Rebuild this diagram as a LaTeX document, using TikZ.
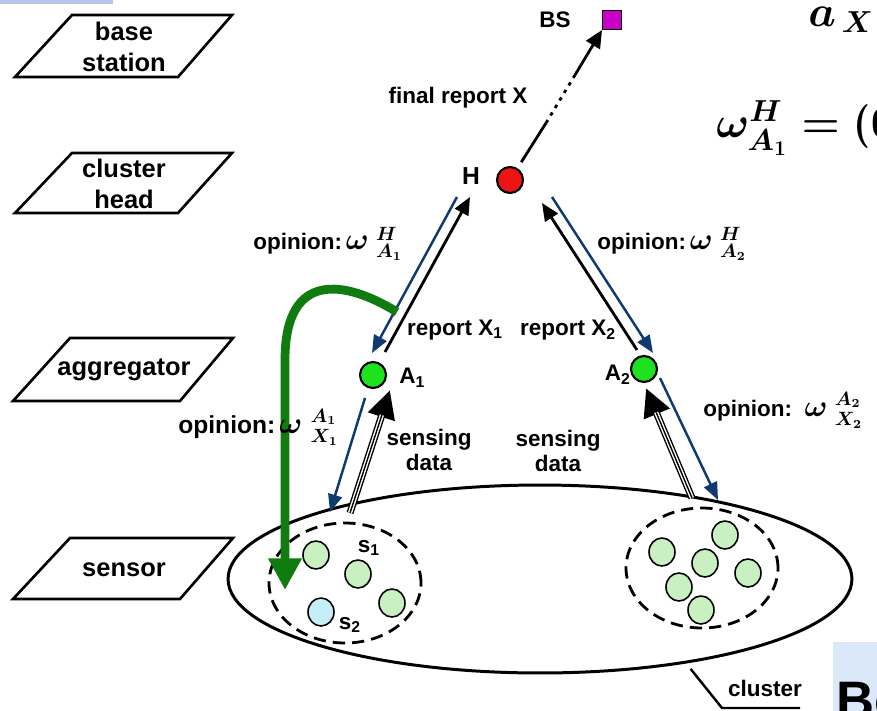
\documentclass[tikz,border=0pt]{standalone}
\usepackage{fontspec}
\usepackage{amsmath}
\setmainfont{Liberation Sans}
\usetikzlibrary{arrows.meta,shapes.geometric}
\definecolor{opblue}{RGB}{14,58,112}
\definecolor{trustgreen}{RGB}{16,124,16}
\definecolor{aggr}{RGB}{30,226,30}
\definecolor{sens}{RGB}{200,240,192}
\definecolor{sensb}{RGB}{198,238,248}
\definecolor{headred}{RGB}{238,20,20}
\definecolor{bsmag}{RGB}{200,0,200}
\definecolor{slideblue}{RGB}{218,232,250}
\definecolor{barblue}{RGB}{184,196,236}
\tikzstyle{lvl}=[draw, line width=1.5pt, line join=miter]
\tikzstyle{lvltext}=[inner sep=0pt, align=center, font=\fontsize{14.5}{17.6}\selectfont\bfseries]
\tikzstyle{lbl}=[inner sep=0pt, align=center, font=\fontsize{12.8}{14.5}\selectfont\bfseries]
\tikzstyle{bs}=[rectangle, draw, line width=0.6pt, fill=bsmag, minimum size=0.38cm, inner sep=0pt]
\tikzstyle{head}=[circle, draw, line width=1.2pt, fill=headred, minimum size=0.52cm, inner sep=0pt]
\tikzstyle{agg}=[circle, draw, line width=1.2pt, fill=aggr, minimum size=0.52cm, inner sep=0pt]
\tikzstyle{sn}=[ellipse, draw, line width=0.9pt, fill=sens, minimum width=0.52cm, minimum height=0.56cm, inner sep=0pt]
\tikzstyle{sgroup}=[ellipse, draw, line width=1.6pt, dash pattern=on 7pt off 4pt, minimum width=3.04cm, minimum height=2.4cm]
\tikzstyle{finalrep}=[line width=1.6pt]
\tikzstyle{report}=[line width=1.6pt, -{Triangle[length=10pt,width=8.5pt]}]
\tikzstyle{opinion}=[opblue, line width=1.4pt, -{Triangle[length=10pt,width=8pt]}]
\tikzstyle{sensing}=[line width=4pt, -{Triangle[length=16pt,width=15pt]},
  postaction={draw=white, line width=2.4pt, -, shorten >=15pt},
  postaction={draw=black, line width=0.8pt, -, shorten >=15pt}]
\tikzstyle{misroute}=[trustgreen, line width=5pt, -{Triangle[length=18pt,width=18pt]}]
\tikzstyle{slidemath}=[inner sep=0pt, font=\fontsize{25}{28}\selectfont]
\newcommand{\opw}[2]{{\fontsize{16}{16}\selectfont\boldmath$\omega$}\,\,{\fontsize{15}{15}\selectfont\boldmath$^{#1}_{#2}$}}
\newcommand{\omegaeq}{{\boldmath$\omega^{H}_{A_1}=\mathopen{}$}{\fontfamily{lmr}\bfseries\char40 0}}
\newcommand{\aeq}{{\fontsize{27}{30}\selectfont\boldmath$a$}{\boldmath$_{\,X}$}}

\begin{document}
\begin{tikzpicture}[x=0.02cm, y=-0.02cm]
	\useasboundingbox (0,0) rectangle (877,711);
	\clip (0,0) rectangle (877,711);
	\fill[white] (0,0) rectangle (877,711);
	\fill[barblue] (0,0) rectangle (113,4);
	\fill[slideblue] (833,642) rectangle (877,711);
	
	%The layers
	\draw[lvl] (15,77) -- (72,15) -- (232,15) -- (178,77) -- cycle;
	\node[lvltext] (l-bs) at (124,47) {base\\station};
	\draw[lvl] (15,213) -- (72,153) -- (232,153) -- (178,213) -- cycle;
	\node[lvltext] (l-ch) at (124,184) {cluster\\head};
	\draw[lvl] (13,401) -- (70,338) -- (233,338) -- (180,401) -- cycle;
	\node[lvltext] (l-ag) at (124,370) {aggregator};
	\draw[lvl] (13,599) -- (70,538) -- (233,538) -- (180,599) -- cycle;
	\node[lvltext] (l-se) at (124,570) {sensor};
	
	%The cluster
	\node[ellipse, draw, line width=1.7pt, minimum width=12.48cm, minimum height=3.76cm] (cluster) at (540,579) {};
	\node[sgroup] (g1) at (345,583) {};
	\node[sgroup] (g2) at (702,568) {};
	\node[sn] (s0) at (316,555) {};
	\node[sn] (s1) at (358,574) {};
	\node[sn] (s3) at (392,603) {};
	\node[sn, fill=sensb] (s2) at (321,612) {};
	\foreach \p [count=\i] in {(662,552),(725,535),(705,563),(748,573),(679,587),(701,610)}
		\node[sn] (r\i) at \p {};
	\node[lbl] (s1-l) at (369,548) {s\textsubscript{1}};
	\node[lbl] (s2-l) at (350,625) {s\textsubscript{2}};
	
	%The upper nodes
	\node[bs] (BS) at (612,20) {};
	\node[head] (H) at (510,180) {};
	\node[agg] (A1) at (373,375) {};
	\node[agg] (A2) at (644,369) {};
	\node[lbl] (bs-l) at (555,20) {BS};
	\node[lbl, font=\fontsize{14}{14}\selectfont\bfseries] (h-l) at (471,176) {H};
	\node[lbl, anchor=west] (a1-l) at (399,378) {A\textsubscript{1}};
	\node[lbl, anchor=east] (a2-l) at (631,375) {A\textsubscript{2}};
	
	%The end points
	\coordinate (h-bs-b) at (546,123);
	\coordinate (h-bs-c) at (575,75);
	\coordinate (a1-h-s) at (385,352); \coordinate (a1-h-t) at (470,197);
	\coordinate (h-a1-s) at (457,197); \coordinate (h-a1-t) at (372,353);
	\coordinate (a2-h-s) at (637,350); \coordinate (a2-h-t) at (542,203);
	\coordinate (h-a2-s) at (552,197); \coordinate (h-a2-t) at (653,353);
	\coordinate (a1-g1-s) at (365,398); \coordinate (a1-g1-t) at (330,512);
	\coordinate (g1-a1-s) at (350,513); \coordinate (g1-a1-t) at (390,390);
	\coordinate (a2-g2-s) at (660,378); \coordinate (a2-g2-t) at (718,500);
	\coordinate (g2-a2-s) at (692,498); \coordinate (g2-a2-t) at (646,388);
	\coordinate (m-s) at (397,312); \coordinate (m-t) at (285,590);
	\coordinate (cl-b) at (722,708); \coordinate (cl-c) at (800,708);
	
	%The arrows
	\draw[finalrep, shorten <=4pt] (H) -- (h-bs-b);
	\draw[finalrep, dash pattern=on 2pt off 3pt] (h-bs-b) -- (h-bs-c);
	\draw[finalrep, -{Triangle[length=10pt,width=9pt]}] (h-bs-c) -- (BS.south west);
	\draw[report] (a1-h-s) -- (a1-h-t);
	\draw[opinion] (h-a1-s) -- (h-a1-t);
	\draw[report] (a2-h-s) -- (a2-h-t);
	\draw[opinion] (h-a2-s) -- (h-a2-t);
	\draw[opinion] (a1-g1-s) -- (a1-g1-t);
	\draw[sensing] (g1-a1-s) -- (g1-a1-t);
	\draw[opinion] (a2-g2-s) -- (a2-g2-t);
	\draw[sensing] (g2-a2-s) -- (g2-a2-t);
	\draw[misroute] (m-s) .. controls (345,280) and (285,270) .. (285,360) -- (m-t);
	\draw[line width=1.4pt, shorten <=4pt] (cluster.-30) -- (cl-b) -- (cl-c);
	
	%The labels
	\node[lbl] (fr-l) at (458,98) {final report X};
	\node[lbl, anchor=west] (op-h1) at (253,244) {opinion:\,\opw{H}{A_1}};
	\node[lbl, anchor=west] (op-h2) at (597,244) {opinion:\,\opw{H}{A_2}};
	\node[lbl, anchor=west, font=\fontsize{14}{14}\selectfont\bfseries] (op-x1) at (178,427) {opinion:\,\opw{A_1}{X_1}};
	\node[lbl, anchor=west] (op-x2) at (703,410) {opinion:\;\;\opw{A_2}{X_2}};
	\node[lbl] (r1-l) at (455,330) {report X\textsubscript{1}};
	\node[lbl] (r2-l) at (568,330) {report X\textsubscript{2}};
	\node[lbl] (sd1-l) at (429,450) {sensing\\data};
	\node[lbl] (sd2-l) at (558,451) {sensing\\data};
	\node[lbl] (cl-l) at (765,688) {cluster};
	
	%The cut slide text
	\node[anchor=base west, inner sep=0pt, font=\fontsize{30}{30}\selectfont\bfseries] (bo) at (836,718) {Bo};
	\node[slidemath, anchor=west] (eq) at (716,128) {\omegaeq};
	\node[slidemath, anchor=base west] (ax) at (808,26) {\aeq};
\end{tikzpicture}
\end{document}
